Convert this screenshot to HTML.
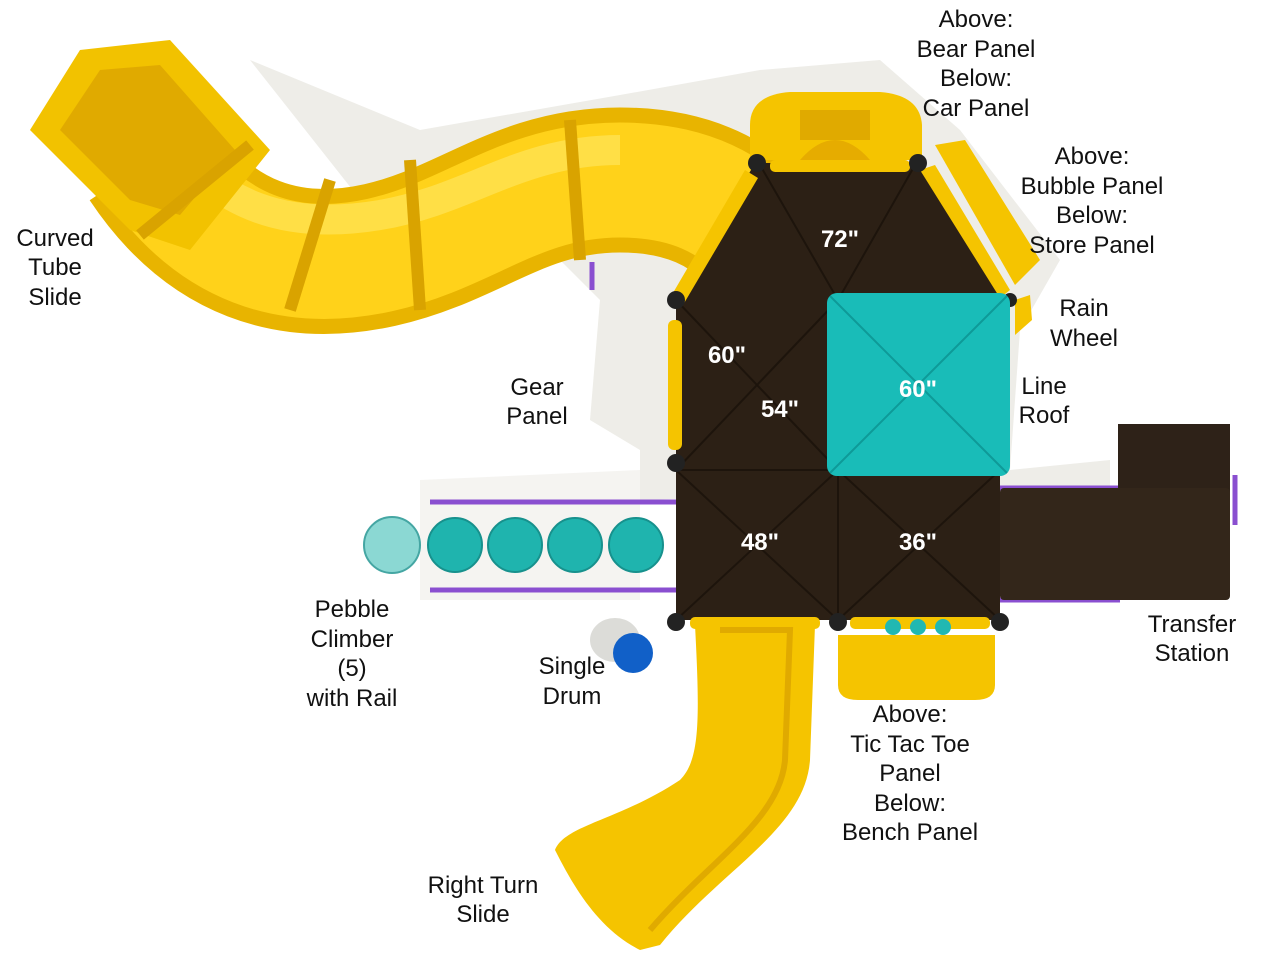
<!DOCTYPE html>
<html><head><meta charset="utf-8"><style>
html,body{margin:0;padding:0;background:#fff;}
svg{display:block}
.l{font-family:"Liberation Sans",sans-serif;font-size:24px;fill:#111;text-anchor:middle}
.d{font-family:"Liberation Sans",sans-serif;font-size:24px;font-weight:bold;fill:#fff;text-anchor:middle}
</style></head><body>
<svg width="1279" height="960" viewBox="0 0 1279 960">
<g fill="#eeede8">
<path d="M250 60 L420 130 L620 95 L760 70 L880 60 L960 130 L1060 260 L1020 330 L1010 470 L1110 460 L1110 490 L1000 490 L640 500 L640 450 L590 420 L600 300 L560 260 L400 250 Z"/>
<path d="M420 480 L640 470 L640 600 L420 600 Z" opacity="0.6"/>
<ellipse cx="615" cy="640" rx="25" ry="22" fill="#dcdcd8"/>
</g>
<path d="M150 160 C210 250 290 275 380 255 C470 235 520 180 620 180 C690 180 730 205 755 230" fill="none" stroke="#e8b400" stroke-width="145"/>
<path d="M150 160 C210 250 290 275 380 255 C470 235 520 180 620 180 C690 180 730 205 755 230" fill="none" stroke="#ffd21a" stroke-width="115"/>
<path d="M160 130 C220 210 290 230 380 215 C470 200 520 150 620 150" fill="none" stroke="#ffe45a" stroke-width="30" opacity="0.7"/>
<path d="M30 130 L80 50 L170 40 L270 150 L190 250 L130 230 Z" fill="#f2c200"/>
<path d="M60 130 L100 70 L160 65 L235 150 L180 215 L130 200 Z" fill="#e0aa00"/>
<g fill="none" stroke="#d9a300" stroke-width="12">
<path d="M250 145 L140 235"/><path d="M330 180 L290 310"/><path d="M410 160 L420 310"/><path d="M570 120 L580 260"/>
</g>
<g stroke="#8a4fd0" stroke-width="5" fill="none">
<path d="M430 502 L676 502"/><path d="M430 590 L676 590"/>
<path d="M1000 488 L1120 488"/><path d="M1000 600 L1120 600"/>
<path d="M592 262 L592 290"/><path d="M1235 475 L1235 525"/>
</g>
<rect x="1118" y="424" width="112" height="68" fill="#2e2218"/>
<rect x="1000" y="488" width="230" height="112" rx="4" fill="#33261a"/>
<path d="M755 163 L918 163 L1000 295 L1000 620 L676 620 L676 300 Z" fill="#2c2015"/>
<g stroke="#1a120a" stroke-width="2" opacity="0.8">
<line x1="676" y1="300" x2="838" y2="470"/><line x1="676" y1="470" x2="838" y2="300"/>
<line x1="676" y1="470" x2="838" y2="620"/><line x1="676" y1="620" x2="838" y2="470"/>
<line x1="838" y1="470" x2="1000" y2="620"/><line x1="838" y1="620" x2="1000" y2="470"/>
<line x1="760" y1="165" x2="838" y2="300"/><line x1="915" y1="165" x2="838" y2="300"/>
<line x1="676" y1="470" x2="1000" y2="470"/><line x1="838" y1="470" x2="838" y2="620"/>
</g>
<g fill="#f5c400">
<rect x="770" y="160" width="140" height="12" rx="5"/>
<path d="M745 170 L758 178 L683 305 L670 298 Z"/>
<rect x="668" y="320" width="14" height="130" rx="6"/>
<rect x="690" y="617" width="130" height="12" rx="5"/>
<rect x="850" y="617" width="140" height="12" rx="5"/>
<path d="M750 125 Q750 95 790 92 L880 92 Q920 95 922 125 L922 160 L750 160 Z"/>
<path d="M935 145 L965 140 L1040 260 L1015 285 Z"/>
<path d="M838 635 L995 635 L995 685 Q995 700 975 700 L858 700 Q838 700 838 685 Z"/>
<path d="M1015 300 L1030 295 L1032 320 L1015 335 Z"/>
</g>
<path d="M800 110 L870 110 L870 140 L800 140 Z" fill="#e0aa00"/>
<path d="M800 160 Q835 120 870 160 Z" fill="#e6ac00"/>
<path d="M920 170 L935 165 L1010 290 L1000 298 Z" fill="#f5c400"/>
<g fill="#222">
<circle cx="757" cy="163" r="9"/><circle cx="918" cy="163" r="9"/>
<circle cx="676" cy="300" r="9"/><circle cx="676" cy="463" r="9"/>
<circle cx="676" cy="622" r="9"/><circle cx="838" cy="622" r="9"/>
<circle cx="1000" cy="622" r="9"/><circle cx="1010" cy="300" r="7"/>
</g>
<rect x="827" y="293" width="183" height="183" rx="10" fill="#19bcb8"/>
<g stroke="#0e9a98" stroke-width="2">
<line x1="830" y1="296" x2="1007" y2="473"/><line x1="1007" y1="296" x2="830" y2="473"/>
</g>
<g fill="#21b8b2"><circle cx="893" cy="627" r="8"/><circle cx="918" cy="627" r="8"/><circle cx="943" cy="627" r="8"/></g>
<g fill="#1fb4ae" stroke="#17918d" stroke-width="2">
<circle cx="392" cy="545" r="28" fill="#6fcfc9" opacity="0.8"/>
<circle cx="455" cy="545" r="27"/><circle cx="515" cy="545" r="27"/>
<circle cx="575" cy="545" r="27"/><circle cx="636" cy="545" r="27"/>
</g>
<circle cx="633" cy="653" r="20" fill="#1160c8"/>
<path d="M695 625 L815 625 L810 760 C805 830 720 870 660 945 L640 950 C600 930 575 890 555 850 C565 825 620 820 680 780 C700 760 700 720 695 625 Z" fill="#f5c400"/>
<path d="M720 630 L790 630 L785 760 C780 820 710 860 650 930" fill="none" stroke="#e0aa00" stroke-width="6"/>
<text class="d" x="840" y="247">72"</text>
<text class="d" x="727" y="363">60"</text>
<text class="d" x="780" y="417">54"</text>
<text class="d" x="918" y="397">60"</text>
<text class="d" x="760" y="550">48"</text>
<text class="d" x="918" y="550">36"</text>
<text class="l" x="976" y="27">Above:</text><text class="l" x="976" y="57">Bear Panel</text><text class="l" x="976" y="86">Below:</text><text class="l" x="976" y="116">Car Panel</text>
<text class="l" x="1092" y="164">Above:</text><text class="l" x="1092" y="194">Bubble Panel</text><text class="l" x="1092" y="223">Below:</text><text class="l" x="1092" y="253">Store Panel</text>
<text class="l" x="1084" y="316">Rain</text><text class="l" x="1084" y="346">Wheel</text>
<text class="l" x="1044" y="394">Line</text><text class="l" x="1044" y="423">Roof</text>
<text class="l" x="55" y="246">Curved</text><text class="l" x="55" y="275">Tube</text><text class="l" x="55" y="305">Slide</text>
<text class="l" x="537" y="395">Gear</text><text class="l" x="537" y="424">Panel</text>
<text class="l" x="352" y="617">Pebble</text><text class="l" x="352" y="647">Climber</text><text class="l" x="352" y="676">(5)</text><text class="l" x="352" y="706">with Rail</text>
<text class="l" x="572" y="674">Single</text><text class="l" x="572" y="704">Drum</text>
<text class="l" x="1192" y="632">Transfer</text><text class="l" x="1192" y="661">Station</text>
<text class="l" x="910" y="722">Above:</text><text class="l" x="910" y="752">Tic Tac Toe</text><text class="l" x="910" y="781">Panel</text><text class="l" x="910" y="811">Below:</text><text class="l" x="910" y="840">Bench Panel</text>
<text class="l" x="483" y="893">Right Turn</text><text class="l" x="483" y="922">Slide</text>
</svg>
</body></html>
